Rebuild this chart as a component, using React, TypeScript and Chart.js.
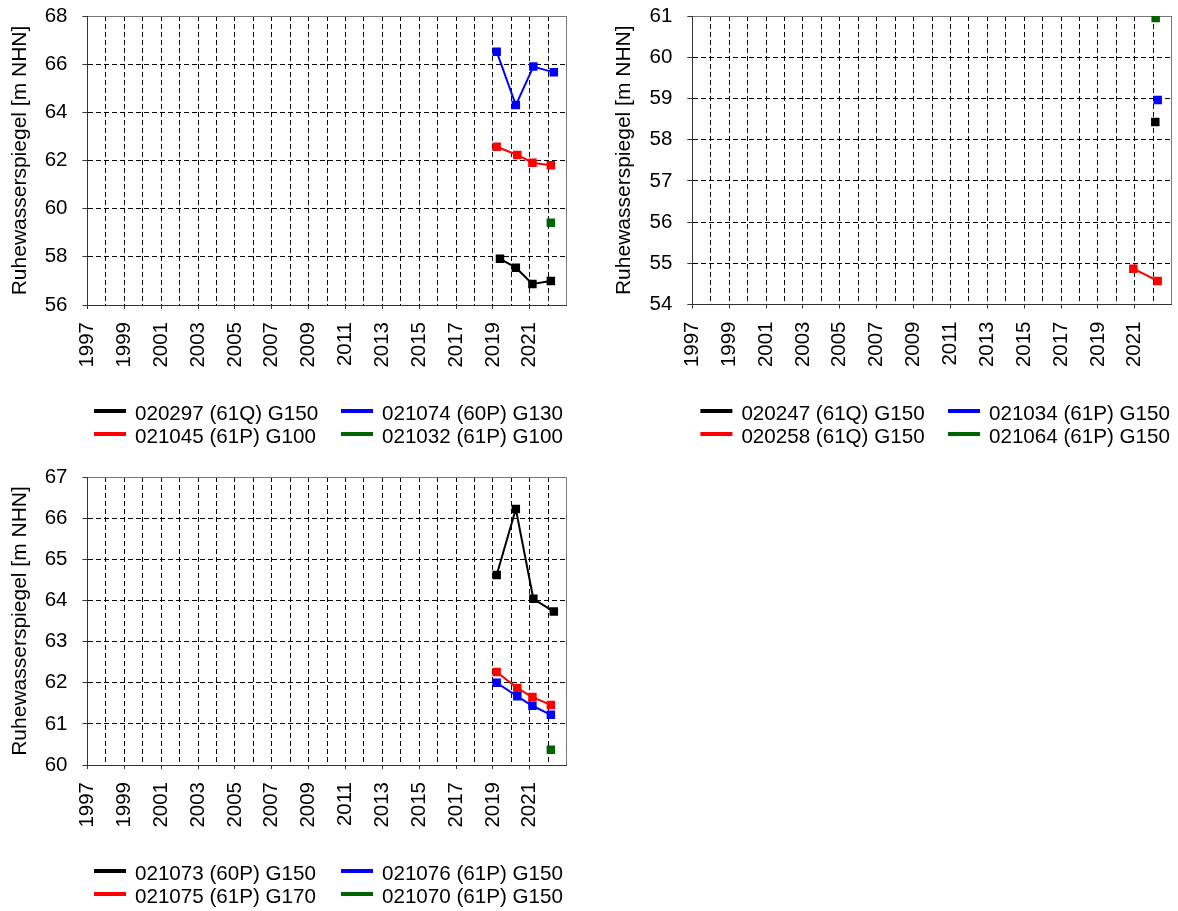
import React, { useEffect, useRef } from 'react';
import { Chart, registerables } from 'chart.js';

Chart.register(...registerables);

const FONT = '"Liberation Sans", Arial, Helvetica, sans-serif';
const Y_TITLE = 'Ruhewasserspiegel [m NHN]';
const X_MIN = 1997;
const X_MAX = 2023;
const xTickLabels = ['1997', '1999', '2001', '2003', '2005', '2007', '2009', '2011', '2013', '2015', '2017', '2019', '2021'];
const seriesColors = ['#000000', '#0000ff', '#ff0000', '#006400'];

// ---- Chart 1 ----
const c1Names = ['020297 (61Q) G150', '021074 (60P) G130', '021045 (61P) G100', '021032 (61P) G100'];
const c1YTicks = [56, 58, 60, 62, 64, 66, 68];
const c1BlackYears = [2019.38, 2020.24, 2021.14, 2022.14];
const c1BlackValues = [57.92, 57.55, 56.87, 57.0];
const c1BlueYears = [2019.2, 2020.24, 2021.19, 2022.3];
const c1BlueValues = [66.52, 64.3, 65.9, 65.66];
const c1RedYears = [2019.2, 2020.32, 2021.14, 2022.14];
const c1RedValues = [62.57, 62.23, 61.91, 61.8];
const c1GreenYears = [2022.14];
const c1GreenValues = [59.42];

// ---- Chart 2 ----
const c2Names = ['020247 (61Q) G150', '021034 (61P) G150', '020258 (61Q) G150', '021064 (61P) G150'];
const c2YTicks = [54, 55, 56, 57, 58, 59, 60, 61];
const c2BlackYears = [2022.11];
const c2BlackValues = [58.43];
const c2BlueYears = [2022.24];
const c2BlueValues = [58.96];
const c2RedYears = [2020.92, 2022.24];
const c2RedValues = [54.87, 54.57];
const c2GreenYears = [2022.13];
const c2GreenValues = [60.95];

// ---- Chart 3 ----
const c3Names = ['021073 (60P) G150', '021076 (61P) G150', '021075 (61P) G170', '021070 (61P) G150'];
const c3YTicks = [60, 61, 62, 63, 64, 65, 66, 67];
const c3BlackYears = [2019.2, 2020.24, 2021.19, 2022.3];
const c3BlackValues = [64.62, 66.22, 64.04, 63.73];
const c3BlueYears = [2019.2, 2020.32, 2021.14, 2022.14];
const c3BlueValues = [62.0, 61.67, 61.44, 61.22];
const c3RedYears = [2019.2, 2020.32, 2021.14, 2022.14];
const c3RedValues = [62.26, 61.87, 61.65, 61.46];
const c3GreenYears = [2022.14];
const c3GreenValues = [60.37];

type Series = { label: string; color: string; years: number[]; values: number[] };

function buildSeries(names: string[], years: number[][], values: number[][]): Series[] {
  return names.map((label, i) => ({ label, color: seriesColors[i], years: years[i], values: values[i] }));
}

const chart1Series = buildSeries(c1Names, [c1BlackYears, c1BlueYears, c1RedYears, c1GreenYears], [c1BlackValues, c1BlueValues, c1RedValues, c1GreenValues]);
const chart2Series = buildSeries(c2Names, [c2BlackYears, c2BlueYears, c2RedYears, c2GreenYears], [c2BlackValues, c2BlueValues, c2RedValues, c2GreenValues]);
const chart3Series = buildSeries(c3Names, [c3BlackYears, c3BlueYears, c3RedYears, c3GreenYears], [c3BlackValues, c3BlueValues, c3RedValues, c3GreenValues]);

const panelLegend = {
  id: 'panelLegend',
  afterDraw(chart: any, _args: any, opts: any) {
    const ctx = chart.ctx;
    ctx.save();
    ctx.font = `20.6px ${FONT}`;
    ctx.textBaseline = 'middle';
    ctx.textAlign = 'left';
    chart.data.datasets.forEach((ds: any, i: number) => {
      const x = opts.cols[i % 2];
      const y = opts.rows[Math.floor(i / 2)];
      ctx.fillStyle = ds.borderColor;
      ctx.fillRect(x, y - 5, 32, 4);
      ctx.fillStyle = '#000';
      ctx.fillText(ds.label, x + 41, y);
    });
    ctx.restore();
  },
};

type PanelProps = {
  series: Series[];
  yTicks: number[];
  left: number;
  top: number;
  width: number;
  height: number;
  area: { left: number; top: number; right: number; bottom: number };
  yLeft: number;
  legendCols: number[];
  legendRows: number[];
};

function Panel(props: PanelProps) {
  const ref = useRef<HTMLCanvasElement>(null);
  useEffect(() => {
    const { series, yTicks, width, height, area, yLeft, legendCols, legendRows } = props;
    const yMin = yTicks[0];
    const yMax = yTicks[yTicks.length - 1];
    const chart = new Chart(ref.current as HTMLCanvasElement, {
      type: 'line',
      data: {
        datasets: series.map((s) => ({
          label: s.label,
          data: s.years.map((x, i) => ({ x, y: s.values[i] })),
          borderColor: s.color,
          backgroundColor: s.color,
          pointBackgroundColor: s.color,
          pointBorderColor: s.color,
          pointStyle: 'rect',
          pointRadius: 6,
          pointHoverRadius: 6,
          pointBorderWidth: 0,
          borderWidth: 2,
          tension: 0,
          fill: false,
          clip: 0,
        })),
      } as any,
      options: {
        animation: false,
        responsive: false,
        maintainAspectRatio: false,
        events: [],
        layout: { padding: { left: yLeft, top: area.top, right: width - area.right, bottom: 0 } },
        plugins: {
          legend: { display: false },
          tooltip: { enabled: false },
          panelLegend: { cols: legendCols, rows: legendRows },
        } as any,
        scales: {
          x: {
            type: 'linear',
            min: X_MIN,
            max: X_MAX,
            afterFit: (s: any) => {
              s.height = height - area.bottom;
              s.paddingLeft = 0;
              s.paddingRight = 0;
            },
            ticks: {
              stepSize: 1,
              autoSkip: false,
              minRotation: 90,
              maxRotation: 90,
              padding: 13,
              color: '#000',
              font: { size: 20.5, family: FONT },
              callback: (v: any) => (xTickLabels.includes(String(v)) ? String(v) : ''),
            },
            grid: {
              color: (c: any) => (c.tick && c.tick.value === X_MAX ? '#777' : '#000'),
              lineWidth: 1,
              tickLength: 4,
              tickWidth: 1,
              tickBorderDash: [],
              tickColor: (c: any) => (c.tick && xTickLabels.includes(String(c.tick.value)) ? '#333' : 'rgba(0,0,0,0)'),
            },
            border: {
              display: true,
              color: '#333',
              width: 1,
              dash: (c: any) => (c.tick && (c.tick.value === X_MAX || c.tick.value === X_MIN) ? [] : [5, 3]),
            },
          },
          y: {
            type: 'linear',
            min: yMin,
            max: yMax,
            afterFit: (s: any) => {
              s.width = area.left - yLeft;
              s.paddingTop = 0;
              s.paddingBottom = 0;
            },
            ticks: {
              stepSize: yTicks[1] - yTicks[0],
              padding: 15,
              color: '#000',
              font: { size: 20.5, family: FONT },
            },
            title: {
              display: true,
              text: Y_TITLE,
              color: '#000',
              font: { size: 21, family: FONT },
              padding: { top: 8, bottom: 0 },
            },
            grid: {
              color: (c: any) => (c.tick && c.tick.value === yMax ? '#777' : '#000'),
              lineWidth: 1,
              tickLength: 5,
              tickWidth: 1,
              tickBorderDash: [],
              tickColor: '#333',
            },
            border: {
              display: true,
              color: '#333',
              width: 1,
              dash: (c: any) => (c.tick && (c.tick.value === yMax || c.tick.value === yMin) ? [] : [5, 3]),
            },
          },
        } as any,
      },
      plugins: [panelLegend as any],
    });
    return () => chart.destroy();
  }, []);
  return (
    <canvas
      ref={ref}
      width={props.width}
      height={props.height}
      style={{ position: 'absolute', left: props.left, top: props.top, width: props.width, height: props.height }}
    />
  );
}

export default function App() {
  return (
    <div style={{ position: 'absolute', left: 0, top: 0, width: 1178, height: 911, background: '#fff', overflow: 'hidden' }}>
      <Panel
        series={chart1Series}
        yTicks={c1YTicks}
        left={0}
        top={0}
        width={590}
        height={460}
        area={{ left: 87.5, top: 16, right: 566.7, bottom: 305 }}
        yLeft={0}
        legendCols={[94, 341]}
        legendRows={[414, 437]}
      />
      <Panel
        series={chart2Series}
        yTicks={c2YTicks}
        left={590}
        top={0}
        width={588}
        height={460}
        area={{ left: 102.3, top: 16, right: 581.7, bottom: 304.5 }}
        yLeft={14}
        legendCols={[110.4, 358]}
        legendRows={[414, 437]}
      />
      <Panel
        series={chart3Series}
        yTicks={c3YTicks}
        left={0}
        top={460}
        width={590}
        height={451}
        area={{ left: 87.5, top: 17, right: 566.7, bottom: 305 }}
        yLeft={0}
        legendCols={[94, 341]}
        legendRows={[414, 437]}
      />
    </div>
  );
}
